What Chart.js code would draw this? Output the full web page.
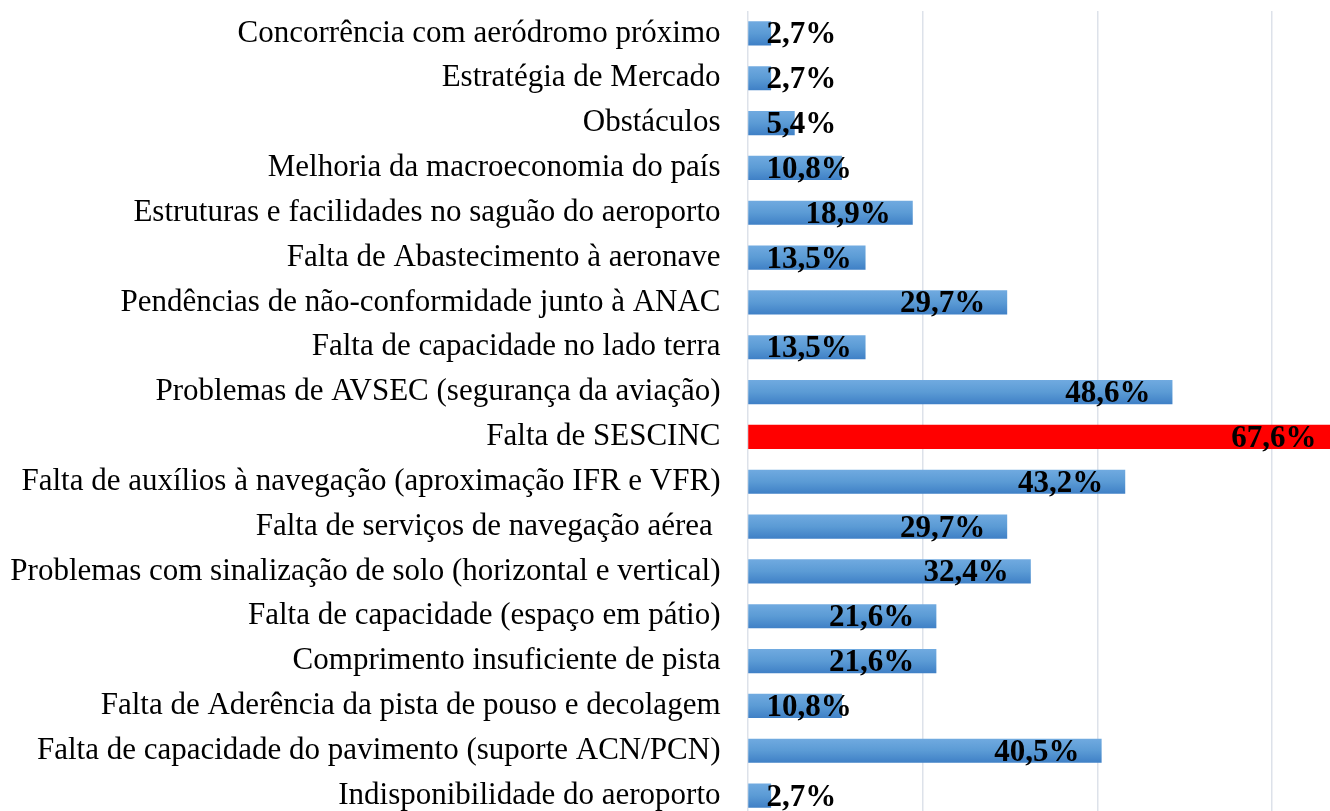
<!DOCTYPE html>
<html lang="pt">
<head>
    <meta charset="UTF-8">
    <title>Fatores</title>
    <script src="https://cdn.jsdelivr.net/npm/chart.js"></script>
    <style>
        html, body { margin: 0; padding: 0; background: #fff; overflow: hidden; }
        #wrap { width: 1330px; height: 811px; overflow: hidden; position: relative; }
        #box { position: absolute; left: 0; top: 0; width: 1450px; height: 822px; }
    </style>
</head>
<body>
<div id="wrap"><div id="box"><canvas id="chart"></canvas></div></div>
<script>
    const categories = [
        'Concorrência com aeródromo próximo',
        'Estratégia de Mercado',
        'Obstáculos',
        'Melhoria da macroeconomia do país',
        'Estruturas e facilidades no saguão do aeroporto',
        'Falta de Abastecimento à aeronave',
        'Pendências de não-conformidade junto à ANAC',
        'Falta de capacidade no lado terra',
        'Problemas de AVSEC (segurança da aviação)',
        'Falta de SESCINC',
        'Falta de auxílios à navegação (aproximação IFR e VFR)',
        'Falta de serviços de navegação aérea ',
        'Problemas com sinalização de solo (horizontal e vertical)',
        'Falta de capacidade (espaço em pátio)',
        'Comprimento insuficiente de pista',
        'Falta de Aderência da pista de pouso e decolagem',
        'Falta de capacidade do pavimento (suporte ACN/PCN)',
        'Indisponibilidade do aeroporto'
    ];
    const values = [2.7, 2.7, 5.4, 10.8, 18.9, 13.5, 29.7, 13.5, 48.6, 67.6, 43.2, 29.7, 32.4, 21.6, 21.6, 10.8, 40.5, 2.7];
    const highlight = 'Falta de SESCINC';

    // bar fill: vertical gradient per bar, red for the highlighted one
    function barFill(ctx) {
        if (categories[ctx.dataIndex] === highlight) return '#ff0000';
        const chart = ctx.chart;
        const el = chart.getDatasetMeta(0).data[ctx.dataIndex];
        if (!el || el.y === undefined || isNaN(el.y)) return '#5b9bd5';
        const h = 12;
        const g = chart.ctx.createLinearGradient(0, el.y - h, 0, el.y + h);
        g.addColorStop(0, '#70aae0');
        g.addColorStop(0.5, '#5b9bd5');
        g.addColorStop(1, '#3f80c6');
        return g;
    }

    const valueLabels = {
        id: 'valueLabels',
        afterDatasetsDraw(chart) {
            const c = chart.ctx;
            const meta = chart.getDatasetMeta(0);
            c.save();
            c.font = 'bold 31px "Liberation Serif", "Times New Roman", serif';
            c.fillStyle = '#000';
            c.textAlign = 'right';
            c.textBaseline = 'middle';
            meta.data.forEach((bar, i) => {
                const txt = values[i].toFixed(1).replace('.', ',') + '%';
                const w = c.measureText(txt).width;
                const right = Math.max(bar.x - 22, chart.chartArea.left + 19 + w);
                c.fillText(txt, right, bar.y + 2);
            });
            c.restore();
        }
    };

    const chart = new Chart(document.getElementById('chart'), {
        type: 'bar',
        data: {
            labels: categories,
            datasets: [{
                data: values,
                backgroundColor: barFill,
                borderWidth: 0,
                barPercentage: 0.54,
                categoryPercentage: 1
            }]
        },
        options: {
            indexAxis: 'y',
            responsive: true,
            maintainAspectRatio: false,
            animation: false,
            layout: { padding: { top: 11, right: 3, bottom: 4, left: 0 } },
            plugins: { legend: { display: false }, tooltip: { enabled: false } },
            scales: {
                x: {
                    min: 0,
                    max: 80,
                    ticks: { display: false, stepSize: 20 },
                    grid: { color: '#dde2ea', lineWidth: 1.5, drawTicks: false },
                    border: { display: false },
                    afterFit: s => { s.height = 0; s.paddingLeft = 0; s.paddingRight = 0; }
                },
                y: {
                    ticks: {
                        color: '#000',
                        padding: 27,
                        font: { family: '"Liberation Serif", "Times New Roman", serif', size: 31 }
                    },
                    grid: { display: false, drawTicks: false },
                    border: { display: false },
                    afterFit: s => { s.width = 747.5; s.paddingTop = 0; s.paddingBottom = 0; }
                }
            }
        },
        plugins: [valueLabels]
    });
    chart.update();
</script>
</body>
</html>
